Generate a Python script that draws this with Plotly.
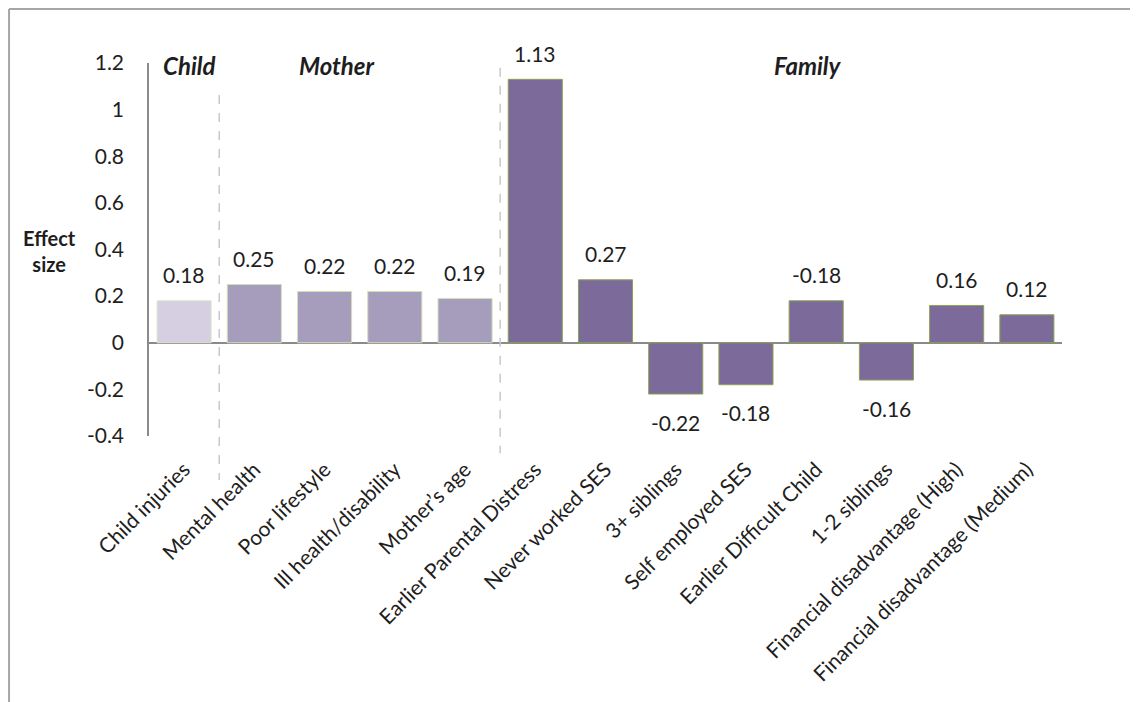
import plotly.graph_objects as go

categories = [
    "Child injuries", "Mental health", "Poor lifestyle", "Ill health/disability",
    "Mother\u2019s age", "Earlier Parental Distress", "Never worked SES", "3+ siblings",
    "Self employed SES", "Earlier Difficult Child", "1-2 siblings",
    "Financial disadvantage (High)", "Financial disadvantage (Medium)",
]
effect = [0.18, 0.25, 0.22, 0.22, 0.19, 1.13, 0.27, -0.22, -0.18, 0.18, -0.16, 0.16, 0.12]
labels = ["0.18", "0.25", "0.22", "0.22", "0.19", "1.13", "0.27", "-0.22", "-0.18",
          "-0.18", "-0.16", "0.16", "0.12"]
groups = ["Child", "Mother", "Mother", "Mother", "Mother", "Family", "Family", "Family",
          "Family", "Family", "Family", "Family", "Family"]

y_ticks = [-0.4, -0.2, 0, 0.2, 0.4, 0.6, 0.8, 1, 1.2]
y_ticktext = ["-0.4", "-0.2", "0", "0.2", "0.4", "0.6", "0.8", "1", "1.2"]

FILL = {"Child": "#d5cfe1", "Mother": "#a69cbc", "Family": "#7c6a9a"}
EDGE = {"Child": "#dde7c8", "Mother": "#d3e0b6", "Family": "#8aa452"}
FONT = "Lato, 'Open Sans', sans-serif"
TEXT = "#1e1e1e"
AXIS = "#8a8a8a"

x = list(range(len(categories)))

fig = go.Figure()
fig.add_trace(go.Bar(
    x=x, y=effect,
    marker=dict(color=[FILL[g] for g in groups],
                line=dict(color=[EDGE[g] for g in groups], width=1)),
    width=0.77,
    showlegend=False,
    hoverinfo="skip",
))

# value labels, offset away from the bar end
for xi, v, t in zip(x, effect, labels):
    fig.add_annotation(
        x=xi, y=v, text=t, showarrow=False,
        yshift=26 if v >= 0 else -28,
        font=dict(family=FONT, size=21, color=TEXT),
    )

# group headings
for name, xpos in [("Child", 0.07), ("Mother", 2.18), ("Family", 8.89)]:
    fig.add_annotation(
        x=xpos, y=1.19, text=f"<b><i>{name}</i></b>", showarrow=False,
        font=dict(family=FONT, size=24, color=TEXT),
    )

fig.add_annotation(
    xref="paper", yref="paper", x=-0.1095, y=0.496,
    xanchor="center", yanchor="middle",
    text="<b>Effect<br>size</b>", showarrow=False, align="center",
    font=dict(family=FONT, size=20, color=TEXT),
)

# dashed group separators
fig.add_shape(type="line", xref="x", yref="paper", x0=0.5, x1=0.5, y0=0.914, y1=-0.118,
              line=dict(color="#c8c8c8", width=1.5, dash="dash"))
fig.add_shape(type="line", xref="x", yref="paper", x0=4.5, x1=4.5, y0=0.987, y1=-0.046,
              line=dict(color="#c8c8c8", width=1.5, dash="dash"))

# outer frame (left and top edges only)
fig.add_shape(type="line", xref="paper", yref="paper", x0=-0.1533, x1=-0.1533,
              y0=1.1448, y1=-0.75, line=dict(color="#a6a6a6", width=2))
fig.add_shape(type="line", xref="paper", yref="paper", x0=-0.1533, x1=1.09,
              y0=1.1448, y1=1.1448, line=dict(color="#a6a6a6", width=2))

# page body adds an 8px offset, so the figure is 8px smaller than the window
fig.update_layout(
    width=1130, height=694,
    margin=dict(l=141, r=76, t=55, b=266),
    paper_bgcolor="white", plot_bgcolor="white",
    font=dict(family=FONT, color=TEXT),
    bargap=0.23,
)
fig.update_xaxes(
    tickmode="array", tickvals=x, ticktext=categories, tickangle=-45,
    tickfont=dict(family=FONT, size=21, color=TEXT),
    ticks="outside", ticklen=12, tickcolor="rgba(0,0,0,0)",
    showline=False, showgrid=False, zeroline=False,
    range=[-0.5, len(categories) - 0.5],
)
fig.update_yaxes(
    range=[-0.4, 1.2], tickvals=y_ticks, ticktext=y_ticktext,
    tickfont=dict(family=FONT, size=21, color=TEXT),
    showgrid=False, showline=True, linecolor=AXIS, linewidth=1.5,
    zeroline=True, zerolinecolor=AXIS, zerolinewidth=1.5,
    ticks="outside", ticklen=19, tickcolor="rgba(0,0,0,0)",
)

fig.write_html("out.html")
